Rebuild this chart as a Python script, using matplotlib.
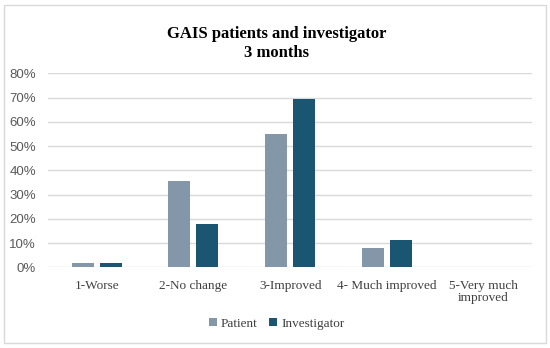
# GAIS patients and investigator, 3 months - grouped bar chart
import numpy as np
import matplotlib.pyplot as plt
from matplotlib.patches import Rectangle
from matplotlib.ticker import FixedLocator, FuncFormatter

# data
categories = ["1-Worse", "2-No change", "3-Improved", "4- Much improved", "5-Very much\nimproved"]
patient = [0.016, 0.355, 0.548, 0.081, 0.0]
investigator = [0.016, 0.177, 0.694, 0.113, 0.0]
y_ticks = [0.0, 0.1, 0.2, 0.3, 0.4, 0.5, 0.6, 0.7, 0.8]

col_patient = "#8497a8"
col_investigator = "#1a5672"
serif = "Liberation Serif"

fig = plt.figure(figsize=(5.5, 3.48), dpi=100)
# outer frame of the chart
fig.patches.append(Rectangle((4 / 550, 5 / 348), 542 / 550, 338 / 348, transform=fig.transFigure,
                             fill=False, edgecolor="#d9d9d9", linewidth=1.0))

ax = fig.add_axes([0.088, 0.232, 0.879, 0.557])
x = np.arange(len(categories))
w = 0.227
off = 0.145
ax.bar(x - off, patient, width=w, color=col_patient, label="Patient", zorder=3)
ax.bar(x + off, investigator, width=w, color=col_investigator, label="Investigator", zorder=3)

ax.set_xlim(-0.5, len(categories) - 0.5)
ax.set_ylim(0, 0.8)
ax.yaxis.set_major_locator(FixedLocator(y_ticks))
ax.yaxis.set_major_formatter(FuncFormatter(lambda v, p: f"{v * 100:.0f}%"))
ax.grid(axis="y", color="#d9d9d9", linewidth=1.0, zorder=0)
for s in ["top", "right", "left", "bottom"]:
    ax.spines[s].set_visible(False)
ax.tick_params(axis="both", length=0)
ax.tick_params(axis="y", labelsize=9.5, labelcolor="#595959", pad=9)
ax.set_xticks(x)
ax.set_xticklabels(categories, fontsize=9.5, family=serif, color="#404040", linespacing=1.0)
ax.tick_params(axis="x", pad=9)
for t in ax.get_yticklabels():
    t.set_family("Liberation Sans")

fig.text(0.503, 0.875, "GAIS patients and investigator\n3 months", ha="center", va="center",
         fontsize=12, fontweight="bold", family=serif, linespacing=1.2)

leg = fig.legend(loc="center", bbox_to_anchor=(0.503, 0.07), ncol=2, frameon=False,
                 prop={"family": serif, "size": 9.5}, handlelength=0.6, handleheight=0.6,
                 handletextpad=0.3, columnspacing=0.9, labelcolor="#404040")

fig.savefig("out.png", dpi=100)
